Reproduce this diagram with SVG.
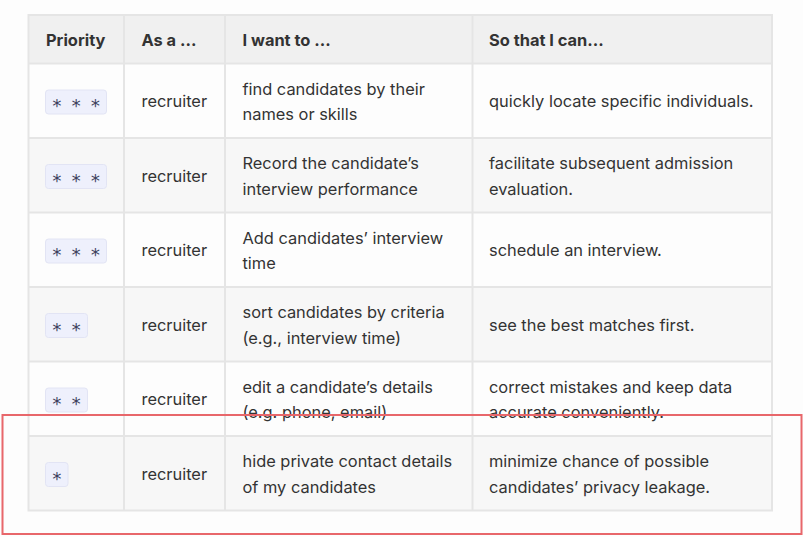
<svg xmlns="http://www.w3.org/2000/svg" width="803" height="537" viewBox="0 0 803 537">
<style>
  .t { font-family: Inter, "Noto Sans", "Liberation Sans", sans-serif; font-size: 16.4px; fill: #333333; }
  .h { font-family: Inter, "Noto Sans", "Liberation Sans", sans-serif; font-size: 16.4px; font-weight: 700; fill: #333333; }
  .star { font-family: "DejaVu Sans Mono", "Liberation Mono", monospace; font-size: 18px; letter-spacing: -1.2px; fill: #3d3f5c; }
  .badge { fill: #eef0fc; stroke: #e2e4f4; stroke-width: 1; }
  .grid { stroke: #e5e5e5; stroke-width: 2; fill: none; }
</style>
<rect x="0" y="0" width="803" height="537" fill="#fdfdfd"/>
<g id="table-bg">
  <rect x="28.5" y="15" width="743.5" height="48.5" fill="#f0f0f0"/>
  <rect x="28.5" y="63.5" width="743.5" height="74.5" fill="#fdfdfd"/>
  <rect x="28.5" y="138" width="743.5" height="74.5" fill="#f7f7f7"/>
  <rect x="28.5" y="212.5" width="743.5" height="74.5" fill="#fdfdfd"/>
  <rect x="28.5" y="287" width="743.5" height="74.5" fill="#f7f7f7"/>
  <rect x="28.5" y="361.5" width="743.5" height="74.5" fill="#fdfdfd"/>
  <rect x="28.5" y="436" width="743.5" height="74.5" fill="#f7f7f7"/>
</g>
<g id="grid">
  <rect class="grid" x="28.5" y="15" width="743.5" height="495.5"/>
  <path class="grid" d="M28.5 63.5H772M28.5 138H772M28.5 212.5H772M28.5 287H772M28.5 361.5H772M28.5 436H772M124 15V510.5M225 15V510.5M472.5 15V510.5"/>
</g>
<g id="header">
  <text class="h" x="46" y="45.5">Priority</text>
  <text class="h" x="141.5" y="45.5">As a ...</text>
  <text class="h" x="242.5" y="45.5">I want to ...</text>
  <text class="h" x="489" y="45.5">So that I can...</text>
</g>
<g id="row1">
  <rect class="badge" x="45.5" y="90" width="61" height="24" rx="3"/>
  <text class="star" x="51.5" y="112">* * *</text>
  <text class="t" x="141.5" y="107">recruiter</text>
  <text class="t" x="242.5" y="94.5">find candidates by their</text>
  <text class="t" x="242.5" y="120">names or skills</text>
  <text class="t" x="489" y="107">quickly locate specific individuals.</text>
</g>
<g id="row2">
  <rect class="badge" x="45.5" y="164.5" width="61" height="24" rx="3"/>
  <text class="star" x="51.5" y="186.5">* * *</text>
  <text class="t" x="141.5" y="181.5">recruiter</text>
  <text class="t" x="242.5" y="169">Record the candidate’s</text>
  <text class="t" x="242.5" y="194.5">interview performance</text>
  <text class="t" x="489" y="169">facilitate subsequent admission</text>
  <text class="t" x="489" y="194.5">evaluation.</text>
</g>
<g id="row3">
  <rect class="badge" x="45.5" y="239" width="61" height="24" rx="3"/>
  <text class="star" x="51.5" y="261">* * *</text>
  <text class="t" x="141.5" y="256">recruiter</text>
  <text class="t" x="242.5" y="243.5">Add candidates’ interview</text>
  <text class="t" x="242.5" y="269">time</text>
  <text class="t" x="489" y="256">schedule an interview.</text>
</g>
<g id="row4">
  <rect class="badge" x="45.5" y="313.5" width="42" height="24" rx="3"/>
  <text class="star" x="51.5" y="335.5">* *</text>
  <text class="t" x="141.5" y="330.5">recruiter</text>
  <text class="t" x="242.5" y="318">sort candidates by criteria</text>
  <text class="t" x="242.5" y="343.5">(e.g., interview time)</text>
  <text class="t" x="489" y="330.5">see the best matches first.</text>
</g>
<g id="row5">
  <rect class="badge" x="45.5" y="388" width="42" height="24" rx="3"/>
  <text class="star" x="51.5" y="410">* *</text>
  <text class="t" x="141.5" y="405">recruiter</text>
  <text class="t" x="242.5" y="392.5">edit a candidate’s details</text>
  <text class="t" x="242.5" y="418">(e.g. phone, email)</text>
  <text class="t" x="489" y="392.5">correct mistakes and keep data</text>
  <text class="t" x="489" y="418">accurate conveniently.</text>
</g>
<g id="row6">
  <rect class="badge" x="45.5" y="462.5" width="22.5" height="24" rx="3"/>
  <text class="star" x="51.5" y="484.5">*</text>
  <text class="t" x="141.5" y="479.5">recruiter</text>
  <text class="t" x="242.5" y="467">hide private contact details</text>
  <text class="t" x="242.5" y="492.5">of my candidates</text>
  <text class="t" x="489" y="467">minimize chance of possible</text>
  <text class="t" x="489" y="492.5">candidates’ privacy leakage.</text>
</g>
<g id="highlight">
  <rect x="2.5" y="415" width="799" height="119" fill="none" stroke="#e8676b" stroke-width="2"/>
</g>
</svg>
